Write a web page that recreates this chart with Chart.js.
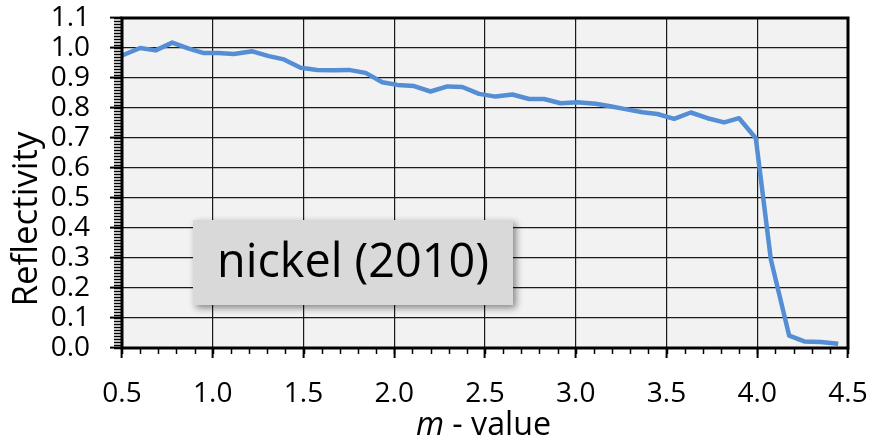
<!DOCTYPE html>
<html>
<head>
<meta charset="utf-8">
<title>nickel (2010) reflectivity</title>
<script src="https://cdn.jsdelivr.net/npm/chart.js@4/dist/chart.umd.min.js"></script>
<style>
  html, body { margin: 0; padding: 0; background: #fff; }
  #wrap { width: 871px; height: 442px; position: relative; }
</style>
</head>
<body>
<div id="wrap"><canvas id="reflChart" width="871" height="442"></canvas></div>
<script>
// --- data ---
const mValues = [0.50, 0.60, 0.685, 0.777, 0.868, 0.951, 1.03, 1.116, 1.218, 1.309, 1.392, 1.484,
  1.576, 1.668, 1.75, 1.842, 1.934, 2.017, 2.109, 2.20, 2.293, 2.375, 2.467, 2.559, 2.651,
  2.743, 2.825, 2.917, 3.009, 3.11, 3.19, 3.266, 3.368, 3.45, 3.542, 3.634, 3.726, 3.818,
  3.90, 3.992, 4.075, 4.176, 4.259, 4.35, 4.446];
const reflectivity = [0.975, 1.000, 0.992, 1.018, 0.998, 0.983, 0.983, 0.980, 0.989, 0.973, 0.962, 0.934,
  0.927, 0.926, 0.927, 0.917, 0.886, 0.877, 0.873, 0.855, 0.872, 0.870, 0.847, 0.838, 0.845,
  0.830, 0.830, 0.816, 0.819, 0.814, 0.806, 0.797, 0.786, 0.780, 0.764, 0.785, 0.766, 0.752,
  0.766, 0.699, 0.295, 0.041, 0.022, 0.020, 0.014];

const xMin = 0.5, xMax = 4.5, xStep = 0.5, xMinorStep = 0.1;
const yMin = 0.0, yMax = 1.1, yStep = 0.1, yMinorStep = 0.01;
const xTitleItalic = 'm';
const xTitleRest = ' - value';
const yTitle = 'Reflectivity';
const boxLabel = 'nickel (2010)';

const FONT = '"Open Sans", "Noto Sans", sans-serif';
const TICK_SIZE = 28;

const points = mValues.map((m, i) => ({ x: m, y: reflectivity[i] }));

// scale a font so that text gets a given width
function fitSize(ctx, text, width, style) {
  ctx.font = (style || '') + ' 40px ' + FONT;
  return 40 * width / ctx.measureText(text).width;
}

function noPad(scale) {
  scale.paddingTop = 0;
  scale.paddingBottom = 0;
  scale.paddingLeft = 0;
  scale.paddingRight = 0;
}

// --- background, frame, minor ticks, titles, label box ---
const decorPlugin = {
  id: 'decor',
  beforeDraw(chart) {
    const { ctx, chartArea: a } = chart;
    ctx.save();
    ctx.fillStyle = '#f2f2f2';
    ctx.fillRect(a.left, a.top, a.right - a.left, a.bottom - a.top);
    ctx.restore();
  },
  afterDatasetsDraw(chart) {
    const { ctx, chartArea: a, scales } = chart;
    const xs = scales.x, ys = scales.y;
    ctx.save();

    // minor ticks
    ctx.strokeStyle = '#000';
    ctx.lineWidth = 1.5;
    ctx.beginPath();
    for (let i = 0; i <= Math.round((xMax - xMin) / xMinorStep); i++) {
      const px = Math.round(xs.getPixelForValue(xMin + i * xMinorStep)) + 0.5;
      ctx.moveTo(px, a.bottom);
      ctx.lineTo(px, a.bottom + 6);
    }
    for (let i = 0; i <= Math.round((yMax - yMin) / yMinorStep); i++) {
      const py = Math.round(ys.getPixelForValue(yMin + i * yMinorStep)) + 0.5;
      ctx.moveTo(a.left, py);
      ctx.lineTo(a.left - 8, py);
    }
    ctx.stroke();

    // frame
    ctx.lineWidth = 3;
    ctx.strokeStyle = '#000';
    ctx.strokeRect(a.left, a.top, a.right - a.left, a.bottom - a.top);

    // label box
    const bx = 193, by = 220, bw = 320, bh = 85;
    ctx.shadowColor = 'rgba(0,0,0,0.45)';
    ctx.shadowBlur = 7;
    ctx.shadowOffsetX = 3;
    ctx.shadowOffsetY = 3;
    ctx.fillStyle = '#d9d9d9';
    ctx.fillRect(bx, by, bw, bh);
    ctx.shadowColor = 'transparent';
    ctx.fillStyle = '#000';
    ctx.font = fitSize(ctx, boxLabel, 272) + 'px ' + FONT;
    ctx.textAlign = 'center';
    ctx.textBaseline = 'middle';
    ctx.fillText(boxLabel, bx + bw / 2, by + bh / 2 + 1);

    // x title (italic m)
    const xtSize = fitSize(ctx, xTitleItalic + xTitleRest, 137);
    const italicFont = 'italic ' + xtSize + 'px ' + FONT;
    const normalFont = xtSize + 'px ' + FONT;
    ctx.textBaseline = 'alphabetic';
    ctx.textAlign = 'left';
    ctx.font = italicFont;
    const w1 = ctx.measureText(xTitleItalic).width;
    ctx.font = normalFont;
    const w2 = ctx.measureText(xTitleRest).width;
    const startX = (415 + 552) / 2 - (w1 + w2) / 2;
    ctx.font = italicFont;
    ctx.fillText(xTitleItalic, startX, 435);
    ctx.font = normalFont;
    ctx.fillText(xTitleRest, startX + w1, 435);

    // y title
    const ytSize = fitSize(ctx, yTitle, 175);
    ctx.translate(27, 219);
    ctx.rotate(-Math.PI / 2);
    ctx.textAlign = 'center';
    ctx.textBaseline = 'middle';
    ctx.font = ytSize + 'px ' + FONT;
    ctx.fillText(yTitle, 0, 0);

    ctx.restore();
  }
};

new Chart(document.getElementById('reflChart'), {
  type: 'scatter',
  data: {
    datasets: [{
      data: points,
      showLine: true,
      borderColor: '#558ed5',
      borderWidth: 4.5,
      pointRadius: 0,
      tension: 0,
      borderJoinStyle: 'round',
      clip: false
    }]
  },
  options: {
    responsive: false,
    animation: false,
    events: [],
    layout: { padding: { left: 0, right: 23, top: 18, bottom: 0 } },
    plugins: {
      legend: { display: false },
      tooltip: { enabled: false },
      title: { display: false }
    },
    scales: {
      x: {
        type: 'linear',
        min: xMin,
        max: xMax,
        afterFit(scale) { scale.height = 94; noPad(scale); },
        ticks: {
          stepSize: xStep,
          autoSkip: false,
          color: '#000',
          font: { family: FONT, size: TICK_SIZE, lineHeight: 1 },
          padding: 22,
          maxRotation: 0,
          callback: v => Number(v).toFixed(1)
        },
        grid: {
          color: '#1a1a1a',
          lineWidth: 1.2,
          tickLength: 10,
          tickColor: '#000',
          tickWidth: 2
        },
        border: { display: false }
      },
      y: {
        type: 'linear',
        min: yMin,
        max: yMax,
        afterFit(scale) { scale.width = 122; noPad(scale); },
        ticks: {
          stepSize: yStep,
          autoSkip: false,
          color: '#000',
          font: { family: FONT, size: TICK_SIZE, lineHeight: 1 },
          padding: 20,
          callback: v => Number(v).toFixed(1)
        },
        grid: {
          color: '#1a1a1a',
          lineWidth: 1.2,
          tickLength: 12,
          tickColor: '#000',
          tickWidth: 2
        },
        border: { display: false }
      }
    }
  },
  plugins: [decorPlugin]
});
</script>
</body>
</html>
